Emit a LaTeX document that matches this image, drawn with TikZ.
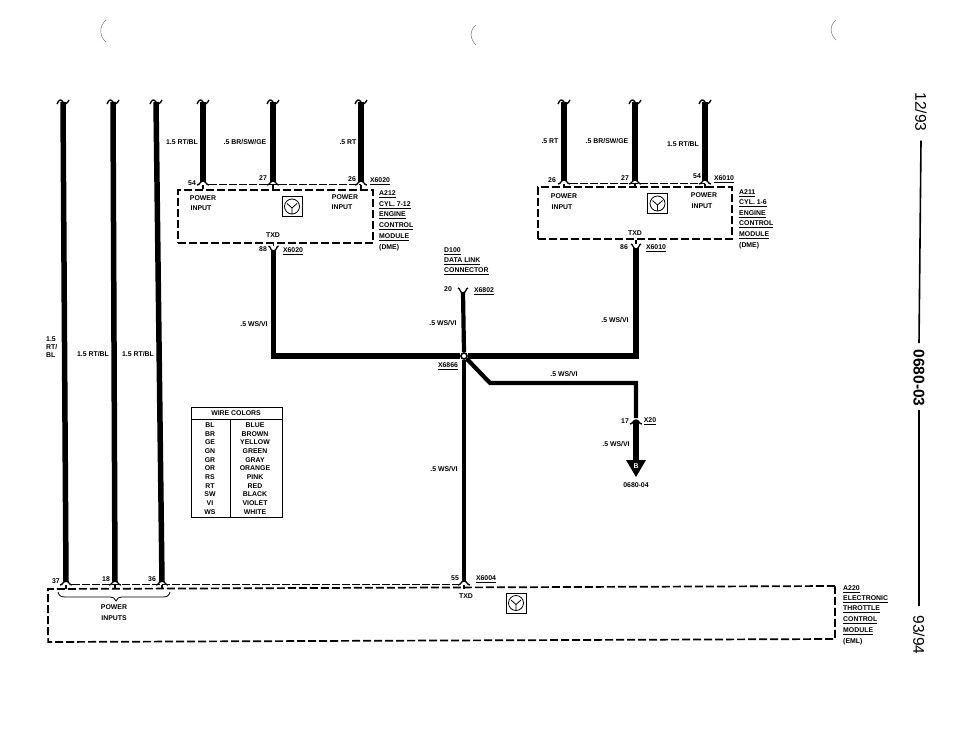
\documentclass[tikz,border=0pt]{standalone}
\usepackage{fontspec}
\setmainfont{Liberation Sans}
\usetikzlibrary{positioning}

\begin{document}
\begin{tikzpicture}[x=1pt, y=-1pt]
	\tikzstyle{Txt}		= [inner sep=0pt, font=\bfseries\fontsize{6.9}{7}\selectfont]
	\tikzstyle{TxtL}	= [Txt, anchor=west]
	\tikzstyle{Side}	= [inner sep=0pt, rotate=-90, font=\fontsize{15.5}{16}\selectfont]
	\tikzstyle{Wire}	= [line width=5.5pt]
	\tikzstyle{ThinW}	= [line width=4.2pt]
	\tikzstyle{Cap}		= [line width=1.3pt]
	\tikzstyle{Link}	= [line width=0.8pt, dash pattern=on 8pt off 2pt]
	\tikzstyle{Module}	= [draw, inner sep=0pt, line width=1.7pt, dash pattern=on 8pt off 3pt]
	\tikzstyle{Symbol}	= [draw, line width=1pt, minimum size=20pt, inner sep=0pt]
	\tikzstyle{Scan}	= [line width=0.5pt, black!55]

	\useasboundingbox (0, 0) rectangle (960, 744);
	\fill [white] (0, 0) rectangle (960, 744);

	\coordinate (h1) at (106, 20);
	\coordinate (h2) at (106, 42);
	\coordinate (h3) at (476, 25);
	\coordinate (h4) at (476, 45);
	\coordinate (h5) at (836, 20);
	\coordinate (h6) at (836, 40);
	\draw (h1) .. controls (99, 26) and (99, 36) .. (h2) [Scan];
	\draw (h3) .. controls (469, 31) and (470, 39) .. (h4) [Scan];
	\draw (h5) .. controls (829, 26) and (830, 34) .. (h6) [Scan];

	\node (M212) at (275.5, 216.5) [Module, minimum width=195pt, minimum height=53pt] {};
	\node (M211) at (635, 213) [Module, minimum width=194pt, minimum height=52pt] {};
	\node (M220) at (441.5, 614) [Module, minimum width=787pt, minimum height=53pt, rotate=0.22] {};

	\coordinate (ta) at (63, 102);
	\coordinate (tb) at (113, 102);
	\coordinate (tc) at (156, 102);
	\coordinate (td) at (203, 102);
	\coordinate (te) at (273, 102);
	\coordinate (tf) at (361, 102);
	\coordinate (tg) at (564, 102);
	\coordinate (th) at (635, 102);
	\coordinate (ti) at (705, 102);

	\coordinate (pa) at (66, 582);
	\coordinate (pb) at (115, 582);
	\coordinate (pc) at (162, 582);
	\coordinate (pd) at (203, 182);
	\coordinate (pe) at (273, 182);
	\coordinate (pf) at (361, 182);
	\coordinate (pg) at (564, 181);
	\coordinate (ph) at (635, 181);
	\coordinate (pi) at (705, 181);
	\coordinate (pl) at (464, 582);

	\coordinate (q1) at (273.5, 250);
	\coordinate (q2) at (636, 248);
	\coordinate (q3) at (463, 292);
	\coordinate (c1) at (273.5, 356);
	\coordinate (c2) at (636, 356);
	\coordinate (d1) at (490, 383);
	\coordinate (d2) at (636, 383);
	\coordinate (x1) at (636, 418);
	\coordinate (x2) at (636, 421);
	\coordinate (x3) at (636, 462);

	\node (Jn) at (464, 356) [circle, draw, fill=white, line width=1.6pt, minimum size=6pt, inner sep=0pt] {};

	\draw [-] (ta) to (pa) [Wire];
	\draw [-] (tb) to (pb) [Wire];
	\draw [-] (tc) to (pc) [Wire];
	\draw [-] (td) to (pd) [Wire];
	\draw [-] (te) to (pe) [Wire, line width=6.5pt];
	\draw [-] (tf) to (pf) [Wire];
	\draw [-] (tg) to (pg) [Wire, line width=6pt];
	\draw [-] (th) to (ph) [Wire, line width=6pt];
	\draw [-] (ti) to (pi) [Wire, line width=6pt];

	\draw [-, line join=miter] (q1) -- (c1) -- (Jn.west) [Wire];
	\draw [-, line join=miter] (q2) -- (c2) -- (Jn.east) [Wire];
	\draw [-] (q3) to (Jn.north) [ThinW];
	\draw [-] (Jn.south) to (pl) [ThinW];
	\draw [-, line join=miter] (Jn.south east) -- (d1) -- (d2) -- (x1) [ThinW];
	\draw [-] (x2) to (x3) [Wire];

	\node (Arrow) at (636, 466) [inner sep=0pt] {};
	\fill (626, 460) -- (646, 460) -- (636, 477) -- cycle;
	\node (B) at (Arrow) [Txt, white] {B};

	\foreach \p in {ta,tb,tc,td,te,tf,tg,th,ti}
		\draw [Cap, shift={(\p)}] (-6, 2) .. controls (-4, -3) and (-2, -3) .. (0, 0) .. controls (2, 3) and (4, 2) .. (6, -2);
	\foreach \p in {pa,pb,pc,pd,pe,pf,pg,ph,pi,pl,x2}
		\draw [Cap, shift={(\p)}] (-6, 3) .. controls (-3, 3) and (-3, -1) .. (0, -1) .. controls (3, -1) and (3, 3) .. (6, 3);
	\foreach \p in {pa,pb,pc,pd,pe,pf,pg,ph,pi,pl}
		\draw [Cap, shift={(\p)}] (0, 3) to (0, 7);
	\foreach \p in {q1,q2,q3}
		\draw [Cap, shift={(\p)}] (-5, -4) .. controls (-3, -4) and (-3, 1) .. (0, 1) .. controls (3, 1) and (3, -4) .. (5, -4);
	\draw [Cap] (q1) ++(0, -4) to (M212.south -| q1);
	\draw [Cap] (q2) ++(0, -4) to (M211.south -| q2);

	\draw [-] (pd) ++(6, 2) to (pf |- 0, 184) [Link];
	\draw [-] (pg) ++(6, 2) to (pi |- 0, 183) [Link];
	\draw [-] (pa) ++(6, 2) to (459, 584) [Link];

	\node (S212) at (292, 206.5) [Symbol] {};
	\node (S211) at (657.5, 203.5) [Symbol] {};
	\node (S220) at (516, 603) [Symbol] {};
	\foreach \s in {S212,S211,S220} {
		\draw [line width=0.8pt] (\s) circle (7.5pt);
		\draw [line width=0.8pt, shift={(\s)}] (-5, -3) -- (0, 1.5) -- (5, -3) (0, 1.5) -- (0, 7.5);
	}

	\coordinate (br1) at (58, 592);
	\coordinate (br2) at (116, 601);
	\coordinate (br3) at (170, 592);
	\draw [line width=0.8pt] (br1) .. controls (59, 596) and (61, 597) .. (66, 597) -- (110, 597) .. controls (113, 597) and (115, 598) .. (br2) .. controls (117, 598) and (119, 597) .. (122, 597) -- (162, 597) .. controls (167, 597) and (169, 596) .. (br3);

	\node (l1a) at (46, 339) [TxtL] {1.5};
	\node (l1b) at (46, 347) [TxtL] {RT/};
	\node (l1c) at (46, 355) [TxtL] {BL};
	\node (l2) at (93, 354) [Txt] {1.5 RT/BL};
	\node (l3) at (138, 354) [Txt] {1.5 RT/BL};
	\node (l4) at (182, 142) [Txt] {1.5 RT/BL};
	\node (l5) at (245, 142) [Txt] {.5 BR/SW/GE};
	\node (l6) at (348, 142) [Txt] {.5 RT};
	\node (l7) at (254, 324) [Txt] {.5 WS/VI};

	\node (n54a) at (192, 183) [Txt] {54};
	\node (n27a) at (263, 178) [Txt] {27};
	\node (n26a) at (352, 179) [Txt] {26};
	\node (xa) at (380, 181) [Txt] {\underline{X6020}};
	\node (pwa) at (203, 198) [Txt] {POWER};
	\node (ina) at (201, 208.5) [Txt] {INPUT};
	\node (pwb) at (345, 197) [Txt] {POWER};
	\node (inb) at (342, 207) [Txt] {INPUT};
	\node (txa) at (273, 235) [Txt] {TXD};
	\node (n88) at (263, 249) [Txt] {88};
	\node (xb) at (293, 251) [Txt] {\underline{X6020}};
	\node (ta1) at (379, 194) [TxtL] {\underline{A212}};
	\node (ta2) at (379, 205) [TxtL] {\underline{CYL. 7-12}};
	\node (ta3) at (379, 215) [TxtL] {\underline{ENGINE}};
	\node (ta4) at (379, 226) [TxtL] {\underline{CONTROL}};
	\node (ta5) at (379, 237) [TxtL] {\underline{MODULE}};
	\node (ta6) at (379, 248) [TxtL] {(DME)};

	\node (l8) at (550, 141) [Txt] {.5 RT};
	\node (l9) at (607, 141) [Txt] {.5 BR/SW/GE};
	\node (l10) at (683, 144) [Txt] {1.5 RT/BL};
	\node (n26b) at (552, 180) [Txt] {26};
	\node (n27b) at (625, 178) [Txt] {27};
	\node (n54b) at (697, 176) [Txt] {54};
	\node (xc) at (724, 179) [Txt] {\underline{X6010}};
	\node (pwc) at (564, 196) [Txt] {POWER};
	\node (inc) at (562, 207) [Txt] {INPUT};
	\node (pwd) at (704, 195) [Txt] {POWER};
	\node (ind) at (702, 206) [Txt] {INPUT};
	\node (txb) at (635, 233) [Txt] {TXD};
	\node (n86) at (624, 247) [Txt] {86};
	\node (xd) at (656, 248) [Txt] {\underline{X6010}};
	\node (tb1) at (739, 193) [TxtL] {\underline{A211}};
	\node (tb2) at (739, 203) [TxtL] {\underline{CYL. 1-6}};
	\node (tb3) at (739, 214) [TxtL] {\underline{ENGINE}};
	\node (tb4) at (739, 224) [TxtL] {\underline{CONTROL}};
	\node (tb5) at (739, 235) [TxtL] {\underline{MODULE}};
	\node (tb6) at (739, 246) [TxtL] {(DME)};

	\node (tc1) at (444, 251) [TxtL] {\underline{D100}};
	\node (tc2) at (444, 261) [TxtL] {\underline{DATA LINK}};
	\node (tc3) at (444, 271) [TxtL] {\underline{CONNECTOR}};
	\node (n20) at (448, 289) [Txt] {20};
	\node (xe) at (484, 291) [Txt] {\underline{X6802}};
	\node (l11) at (443, 323) [Txt] {.5 WS/VI};
	\node (l12) at (615, 320) [Txt] {.5 WS/VI};
	\node (xf) at (448, 366) [Txt] {\underline{X6866}};
	\node (l13) at (564, 374) [Txt] {.5 WS/VI};
	\node (n17) at (625, 421) [Txt] {17};
	\node (xg) at (650, 421) [Txt] {\underline{X20}};
	\node (l14) at (616, 444) [Txt] {.5 WS/VI};
	\node (ref) at (636, 485) [Txt] {0680-04};
	\node (l15) at (444, 469) [Txt] {.5 WS/VI};

	\node (n37) at (56, 581) [Txt] {37};
	\node (n18) at (106, 579) [Txt] {18};
	\node (n36) at (152, 579) [Txt] {36};
	\node (n55) at (455, 578) [Txt] {55};
	\node (xh) at (486, 579) [Txt] {\underline{X6004}};
	\node (txc) at (466, 596) [Txt] {TXD};
	\node (pwe) at (114, 607) [Txt] {POWER};
	\node (ine) at (114, 618) [Txt] {INPUTS};
	\node (td1) at (843, 589) [TxtL] {\underline{A220}};
	\node (td2) at (843, 599) [TxtL] {\underline{ELECTRONIC}};
	\node (td3) at (843, 609) [TxtL] {\underline{THROTTLE}};
	\node (td4) at (843, 620) [TxtL] {\underline{CONTROL}};
	\node (td5) at (843, 631) [TxtL] {\underline{MODULE}};
	\node (td6) at (843, 642) [TxtL] {(EML)};

	\node (Colors) at (236.5, 462) [draw, line width=0.7pt, minimum width=91pt, minimum height=110pt, inner sep=0pt] {};
	\coordinate (r1) at (191, 419);
	\coordinate (r2) at (282, 419);
	\coordinate (r3) at (230, 419);
	\coordinate (r4) at (230, 517);
	\draw [line width=0.7pt] (r1) to (r2);
	\draw [line width=0.7pt] (r3) to (r4);
	\node (Head) at (236, 413.5) [Txt] {WIRE COLORS};
	\foreach \i/\a/\b in {0/BL/BLUE, 1/BR/BROWN, 2/GE/YELLOW, 3/GN/GREEN, 4/GR/GRAY, 5/OR/ORANGE, 6/RS/PINK, 7/RT/RED, 8/SW/BLACK, 9/VI/VIOLET, 10/WS/WHITE} {
		\node (k\i) at (210, 425 + 8.67*\i) [Txt] {\a};
		\node (v\i) at (255, 425 + 8.67*\i) [Txt] {\b};
	}

	\node (Date) at (921, 112) [Side] {12/93};
	\node (Sheet) at (919, 378) [Side, font=\bfseries\fontsize{15.5}{16}\selectfont] {0680-03};
	\node (Year) at (919, 635) [Side] {93/94};
	\draw [-, line width=1.6pt] (Date.east) ++(0, 9) to (919, 343);
	\draw [-, line width=1.6pt] (Sheet.east) ++(0, 3) to (919, 606);
\end{tikzpicture}
\end{document}
